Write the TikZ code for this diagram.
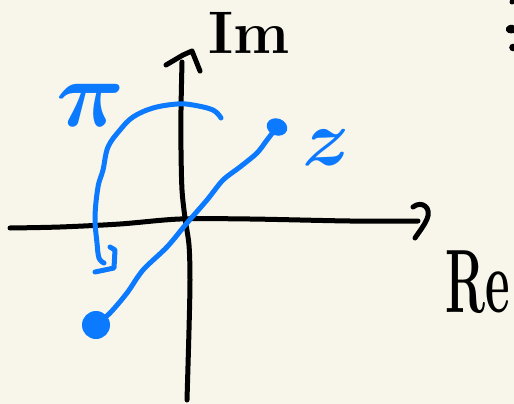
\documentclass[tikz,border=0pt]{standalone}
\usepackage{fontspec}
\definecolor{paper}{RGB}{248,246,234}
\definecolor{pen}{RGB}{12,122,255}
\tikzset{
  axis/.style={line width=5pt, black, line cap=round, line join=round},
  bluepen/.style={line width=5pt, pen, line cap=round, line join=round},
  lbl/.style={inner sep=0pt},
}
\begin{document}
\begin{tikzpicture}[x=1pt,y=-1pt]
\fill[paper] (0,0) rectangle (514,404);
\useasboundingbox (0,0) rectangle (514,404);
% axes
\coordinate (xstart) at (10,228);
\coordinate (xend) at (418,221);
\coordinate (ystart) at (187,400);
\coordinate (yend) at (182,62);
\draw[axis] plot[smooth, tension=0.5] coordinates {(xstart) (60,227) (120,224) (180,219) (250,219) (350,221) (xend)};
\draw[axis] (413,207) .. controls (422,200) and (432,208) .. (427,219) .. controls (424,226) and (419,232) .. (415,238);
\draw[axis] plot[smooth, tension=0.5] coordinates {(ystart) (189,330) (190,280) (189,245) (185,218) (182,190) (181,150) (181,110) (yend)};
\draw[axis] (166,65) -- (183,55) -- (192,51) -- (200,71);
% labels
\node[lbl, anchor=base west, font=\bfseries\fontsize{60}{60}\selectfont] (im) at (208,54) {Im};
\node[lbl, anchor=base west, xscale=0.53, font=\bfseries\fontsize{90}{90}\selectfont] (re) at (445,312) {Re};
\node[lbl, pen] (pi) at (91,105) {\scalebox{9.5}{\boldmath$\pi$}};
\node[lbl, pen] (z) at (326,148) {\scalebox{8}{\boldmath$z$}};
% rotation arc
\draw[bluepen] plot[smooth, tension=0.6] coordinates {(221,118) (213,110) (193,105) (177,104) (153,108) (133,117) (120,130) (108,147) (103,170) (98,187) (95,217) (97,243) (99,258) (104,263)};
\draw[bluepen] (110,247) -- (115,250) -- (114,268) -- (95,272);
% vector z and -z
\coordinate (zp) at (277,127);
\coordinate (zm) at (96,325);
\draw[bluepen] plot[smooth, tension=0.5] coordinates {(zm) (110,313) (127,293) (143,270) (167,247) (187,223) (207,200) (223,180) (240,167) (257,153) (267,140) (zp)};
\fill[pen, rotate around={-20:(zp)}] (zp) ellipse [x radius=10.5, y radius=8.5];
\fill[pen] (zm) ellipse [x radius=14, y radius=14];
% fragments at top right
\fill[black] (512,2) circle (2.5);
\fill[black] (506,28) .. controls (508,24) and (514,24) .. (514,26) -- (514,33) .. controls (510,34) and (505,33) .. cycle;
\fill[black] (513,47.5) circle (3.8);
\end{tikzpicture}
\end{document}
